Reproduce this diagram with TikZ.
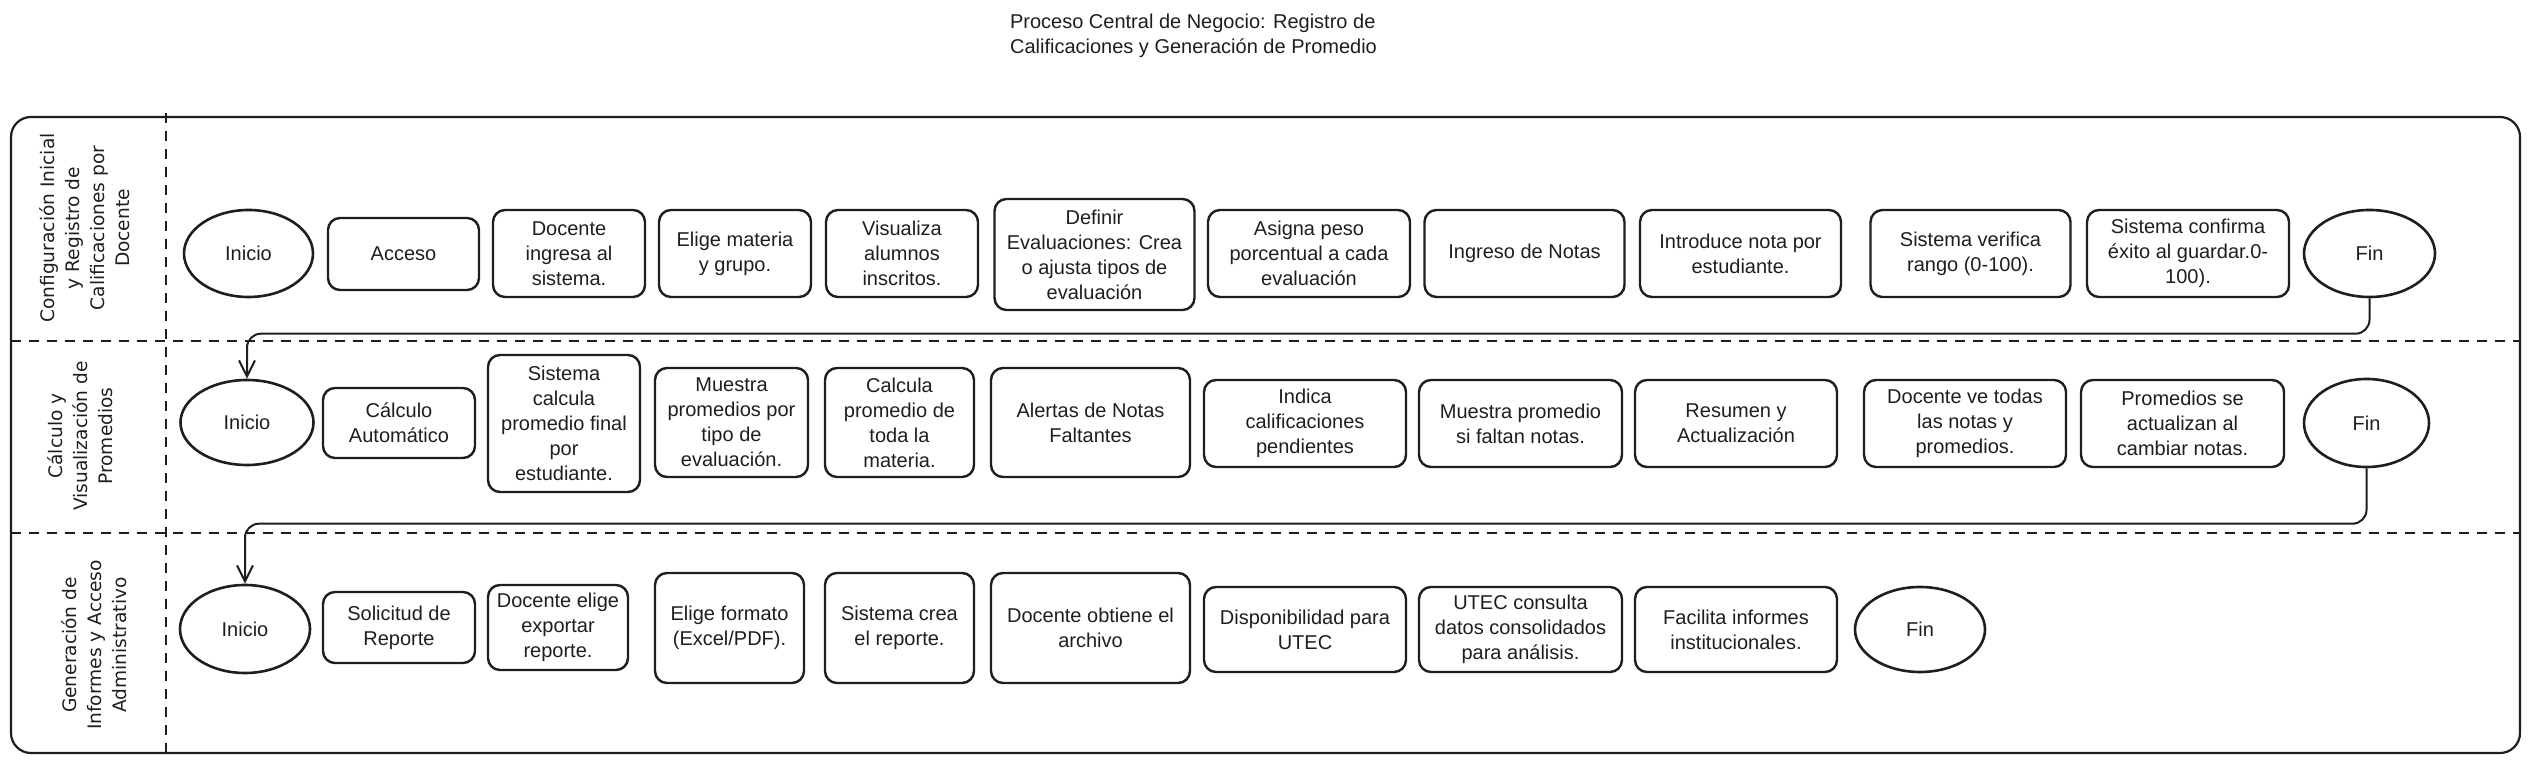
\documentclass[tikz,border=0pt]{standalone}
\usepackage{fontspec}
\setmainfont{Liberation Sans}
\newfontfamily\lanefont{DejaVu Sans}
\usetikzlibrary{shapes.geometric,arrows.meta,calc}
\definecolor{ink}{HTML}{1E1E1E}
\newcommand{\nodefont}{\fontsize{10}{12.5}\selectfont}
\newcommand{\lanetxt}{\lanefont\fontsize{9.3}{12.5}\selectfont}
\tikzset{
  box/.style={draw=ink, text=ink, rounded corners=6pt, line width=1.2pt, align=center, inner sep=0pt, font=\nodefont},
  ell/.style={draw=ink, text=ink, ellipse, line width=1.3pt, inner sep=0pt, font=\nodefont},
  lane/.style={rotate=90, align=center, text=ink, font=\lanetxt},
  sep/.style={draw=ink, line width=1pt, dash pattern=on 5pt off 4pt},
  frame/.style={draw=ink, line width=1.1pt, rounded corners=10pt},
  conn/.style={draw=ink, line width=1pt, rounded corners=7pt, -{Straight Barb[length=8pt,width=8pt,line width=1pt]}},
}
\begin{document}
\begin{tikzpicture}[x=0.5pt,y=-0.5pt]
\useasboundingbox (0,0) rectangle (2531,763);
% title
\node[anchor=west, align=left, font=\nodefont, text=ink] (title) at (1003,35.5) {Proceso Central de Negocio: Registro de\\Calificaciones y Generación de Promedio};
% frame and lanes
\draw[frame] (11,117) rectangle (2520,753);
\draw[sep] (166,113) -- (166,753);
\draw[sep] (11,341) -- (2520,341);
\draw[sep] (11,533) -- (2520,533);
\node[lane] (l1) at (85,228) {Configuración Inicial\\y Registro de\\Calificaciones por\\Docente};
\node[lane] (l2) at (80,436) {Cálculo y\\Visualización de\\Promedios};
\node[lane] (l3) at (94,645) {Generación de\\Informes y Acceso\\Administrativo};
% row 1
\node[ell, minimum width=64.5pt, minimum height=43.5pt] (i1) at (248.5,253.5) {Inicio};
\node[box, minimum width=75.5pt, minimum height=36pt] (a1) at (403.5,254) {Acceso};
\node[box, minimum width=76pt, minimum height=43.5pt] (d1) at (569,253.5) {Docente\\ingresa al\\sistema.};
\node[box, minimum width=76pt, minimum height=43.5pt] (e1) at (735,253.5) {Elige materia\\y grupo.};
\node[box, minimum width=76pt, minimum height=43.5pt] (v1) at (902,253.5) {Visualiza\\alumnos\\inscritos.};
\node[box, minimum width=100pt, minimum height=55.5pt] (df1) at (1094.5,254.5) {Definir\\Evaluaciones: Crea\\o ajusta tipos de\\evaluación};
\node[box, minimum width=101pt, minimum height=43.5pt] (as1) at (1309,253.5) {Asigna peso\\porcentual a cada\\evaluación};
\node[box, minimum width=100pt, minimum height=43.5pt] (in1) at (1524.5,253.5) {Ingreso de Notas};
\node[box, minimum width=100.5pt, minimum height=43.5pt] (it1) at (1740.5,253.5) {Introduce nota por\\estudiante.};
\node[box, minimum width=100pt, minimum height=43.5pt] (sv1) at (1970.5,253.5) {Sistema verifica\\rango (0-100).};
\node[box, minimum width=101pt, minimum height=43.5pt] (sc1) at (2188,253.5) {Sistema confirma\\éxito al guardar.0-\\100).};
\node[ell, minimum width=65.5pt, minimum height=43.5pt] (f1) at (2369.5,253.5) {Fin};
% row 2
\node[ell, minimum width=66.5pt, minimum height=42.5pt] (i2) at (247,422.5) {Inicio};
\node[box, minimum width=76pt, minimum height=35pt] (ca2) at (399,423) {Cálculo\\Automático};
\node[box, minimum width=76pt, minimum height=68.5pt] (sc2) at (564,423.5) {Sistema\\calcula\\promedio final\\por\\estudiante.};
\node[box, minimum width=76.5pt, minimum height=54.5pt] (mp2) at (731.5,422.5) {Muestra\\promedios por\\tipo de\\evaluación.};
\node[box, minimum width=74.5pt, minimum height=54.5pt] (cp2) at (899.5,422.5) {Calcula\\promedio de\\toda la\\materia.};
\node[box, minimum width=99.5pt, minimum height=54.5pt] (al2) at (1090.5,422.5) {Alertas de Notas\\Faltantes};
\node[box, minimum width=101pt, minimum height=43.5pt] (ic2) at (1305,423.5) {Indica\\calificaciones\\pendientes};
\node[box, minimum width=101.5pt, minimum height=43.5pt] (ms2) at (1520.5,423.5) {Muestra promedio\\si faltan notas.};
\node[box, minimum width=101pt, minimum height=43.5pt] (rs2) at (1736,423.5) {Resumen y\\Actualización};
\node[box, minimum width=101pt, minimum height=43.5pt] (dv2) at (1965,423.5) {Docente ve todas\\las notas y\\promedios.};
\node[box, minimum width=101.5pt, minimum height=43.5pt] (ps2) at (2182.5,423.5) {Promedios se\\actualizan al\\cambiar notas.};
\node[ell, minimum width=62.5pt, minimum height=44pt] (f2) at (2366.5,423) {Fin};
% row 3
\node[ell, minimum width=65pt, minimum height=44pt] (i3) at (245,629) {Inicio};
\node[box, minimum width=76pt, minimum height=35.5pt] (sr3) at (399,627.5) {Solicitud de\\Reporte};
\node[box, minimum width=70pt, minimum height=42.5pt] (de3) at (558,627.5) {Docente elige\\exportar\\reporte.};
\node[box, minimum width=74.5pt, minimum height=55pt] (ef3) at (729.5,628) {Elige formato\\(Excel/PDF).};
\node[box, minimum width=74.5pt, minimum height=55pt] (cr3) at (899.5,628) {Sistema crea\\el reporte.};
\node[box, minimum width=99.5pt, minimum height=55pt] (do3) at (1090.5,628) {Docente obtiene el\\archivo};
\node[box, minimum width=101pt, minimum height=42.5pt] (du3) at (1305,629.5) {Disponibilidad para\\UTEC};
\node[box, minimum width=101.5pt, minimum height=42.5pt] (uc3) at (1520.5,629.5) {UTEC consulta\\datos consolidados\\para análisis.};
\node[box, minimum width=101pt, minimum height=42.5pt] (fi3) at (1736,629.5) {Facilita informes\\institucionales.};
\node[ell, minimum width=65pt, minimum height=42.5pt] (f3) at (1920,629.5) {Fin};
% connectors
\coordinate (c1) at ($(i2.north)+(0,-45)$);
\coordinate (c2) at ($(i3.north)+(0,-60)$);
\draw[conn] (f1.south) |- (c1) -- (i2.north);
\draw[conn] (f2.south) |- (c2) -- (i3.north);
\end{tikzpicture}
\end{document}
